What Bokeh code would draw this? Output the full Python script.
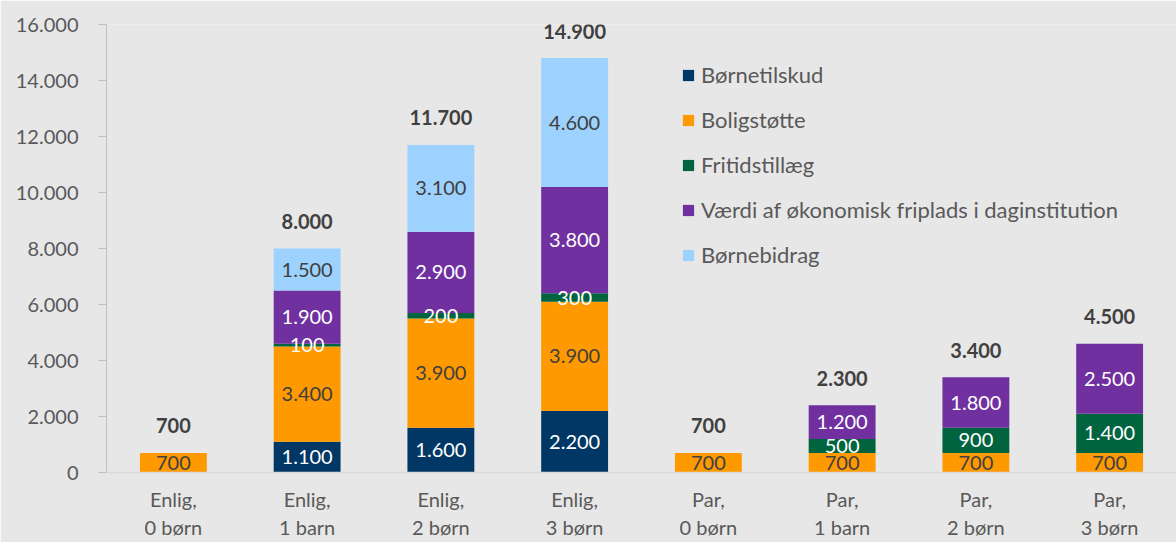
from bokeh.plotting import figure
from bokeh.models import ColumnDataSource, FactorRange, Legend, LegendItem, CustomJSTickFormatter, FixedTicker
from bokeh.core.properties import value
from bokeh.embed import file_html
from bokeh.resources import INLINE

categories = ["Enlig,\n0 børn", "Enlig,\n1 barn", "Enlig,\n2 børn", "Enlig,\n3 børn",
              "Par,\n0 børn", "Par,\n1 barn", "Par,\n2 børn", "Par,\n3 børn"]
series = ["Børnetilskud", "Boligstøtte", "Fritidstillæg",
          "Værdi af økonomisk friplads i daginstitution", "Børnebidrag"]
boernetilskud = [0, 1100, 1600, 2200, 0, 0, 0, 0]
boligstoette = [700, 3400, 3900, 3900, 700, 700, 700, 700]
fritidstillaeg = [0, 100, 200, 300, 0, 500, 900, 1400]
friplads = [0, 1900, 2900, 3800, 0, 1200, 1800, 2500]
boernebidrag = [0, 1500, 3100, 4600, 0, 0, 0, 0]
totals = [700, 8000, 11700, 14900, 700, 2300, 3400, 4500]
yticks = [0, 2000, 4000, 6000, 8000, 10000, 12000, 14000, 16000]

colors = ["#003764", "#FF9900", "#00643F", "#7030A0", "#9DD2FF"]
label_colors = ["#FFFFFF", "#404040", "#FFFFFF", "#FFFFFF", "#404040"]
FONT = "Lato"
BG = "#E7E7E7"

def fmt(v):
    return f"{v:,}".replace(",", ".")

keys = ["s0", "s1", "s2", "s3", "s4"]
all_vals = [boernetilskud, boligstoette, fritidstillaeg, friplads, boernebidrag]
data = dict(x=categories)
for k, vals in zip(keys, all_vals):
    data[k] = vals
src = ColumnDataSource(data)

p = figure(x_range=FactorRange(*categories), y_range=(0, 16000),
           width=1176, height=542, output_backend="svg", toolbar_location=None,
           background_fill_color=BG, border_fill_color=BG, outline_line_color=None,
           min_border_left=106, min_border_right=0, min_border_top=24, min_border_bottom=0)
p.x_range.range_padding = 0

renderers = p.vbar_stack(keys, x="x", width=0.5, source=src, color=colors, line_color=None)

# segment labels
lx, ly, lt, lc = [], [], [], []
for i, c in enumerate(categories):
    base = 0
    for s, vals in enumerate(all_vals):
        v = vals[i]
        if v > 0:
            lx.append(c); ly.append(base + v / 2); lt.append(fmt(v)); lc.append(label_colors[s])
        base += v
lsrc = ColumnDataSource(dict(x=lx, y=ly, t=lt, c=lc))
p.text(x="x", y="y", text="t", text_color="c", source=lsrc, text_align="center",
       text_baseline="middle", text_font=value(FONT), text_font_size="20px")

# total labels
tops = [sum(v[i] for v in all_vals) for i in range(len(categories))]
tsrc = ColumnDataSource(dict(x=categories, y=tops, t=[fmt(v) for v in totals]))
p.text(x="x", y="y", text="t", source=tsrc, text_align="center", text_baseline="middle",
       y_offset=-27, text_color="#404040", text_font=value(FONT), text_font_size="20px",
       text_font_style="bold")

# axes
p.xgrid.grid_line_color = None
p.ygrid.grid_line_color = None
p.yaxis.ticker = FixedTicker(ticks=yticks)
p.yaxis.formatter = CustomJSTickFormatter(code="return Math.round(tick).toString().replace(/\\B(?=(\\d{3})+(?!\\d))/g, '.');")
p.yaxis.axis_line_color = "#BFBFBF"
p.yaxis.major_tick_line_color = "#BFBFBF"
p.yaxis.major_tick_out = 8
p.yaxis.major_tick_in = 0
p.yaxis.minor_tick_line_color = None
p.yaxis.major_label_standoff = 20
p.yaxis.major_label_text_font = FONT
p.yaxis.major_label_text_font_size = "20px"
p.yaxis.major_label_text_color = "#595959"

p.xaxis.axis_line_color = "#D9D9D9"
p.xaxis.axis_line_width = 1.5
p.xaxis.major_tick_line_color = None
p.xaxis.minor_tick_line_color = None
p.xaxis.major_label_standoff = 8
p.xaxis.major_label_text_font = FONT
p.xaxis.major_label_text_font_size = "20px"
p.xaxis.major_label_text_color = "#595959"
p.xaxis.major_label_text_line_height = 1.2

legend = Legend(items=[LegendItem(label=s, renderers=[r]) for s, r in zip(series, renderers)],
                location=(575, 204), orientation="vertical",
                background_fill_alpha=0, border_line_color=None,
                label_text_font=FONT, label_text_font_size="22px", label_text_color="#595959",
                glyph_width=14, glyph_height=14, label_height=26, spacing=18,
                padding=0, margin=0, label_standoff=6)
p.add_layout(legend)

open("out.html", "w").write(file_html(p, INLINE))
